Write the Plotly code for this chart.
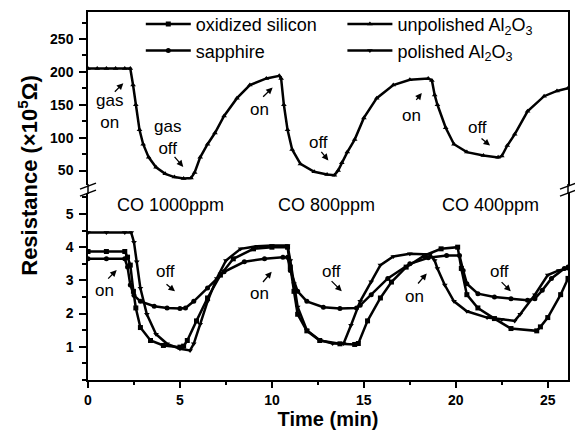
import plotly.graph_objects as go

# ---- data ----
t_unpol = [0, 0.5, 1.0, 1.5, 2.0, 2.3, 2.45, 2.6, 2.8, 3.0, 3.3, 3.7, 4.2, 4.7, 5.2, 5.6, 5.8, 6.1, 6.5, 6.9,
           7.4, 8.1, 8.8, 9.7, 10.4, 10.5, 10.65, 10.85, 11.1, 11.55, 12.3, 13.0, 13.4, 13.6, 13.8, 14.1, 14.5,
           15.0, 15.7, 16.6, 17.5, 18.5, 18.7, 18.85, 19.0, 19.45, 19.9, 20.6, 21.5, 22.3, 22.5, 22.8, 23.2,
           23.9, 24.8, 25.5, 26.1]
r_unpol = [205, 205, 205, 205, 205, 205, 180, 150, 112, 90, 70, 55, 45, 40, 38, 38.5, 47, 70, 90, 107,
           133, 160, 180, 190, 194, 190, 150, 112, 82, 60, 48, 44, 43, 50, 62, 78, 97,
           130, 160, 180, 188, 190, 187, 165, 150, 115, 90, 78, 73, 70, 72, 88, 105,
           140, 163, 171, 175]

t_pol = [0, 1.0, 2.0, 2.35, 2.5, 2.65, 2.85, 3.2, 3.7, 4.3, 5.0, 5.55, 5.75, 6.1, 6.5, 7.0, 7.5, 8.3, 9.2, 10.0,
         10.85, 11.0, 11.2, 11.4, 11.9, 12.6, 13.3, 13.9, 14.3, 14.8, 15.4, 15.9, 16.6, 17.5, 18.6, 18.85,
         19.0, 19.4, 19.9, 20.6, 21.7, 22.5, 23.2, 23.5, 24.3, 25.0, 25.6, 26.1]
r_pol = [4.44, 4.44, 4.44, 4.44, 4.15, 3.56, 2.76, 1.98, 1.38, 1.09, 0.94, 0.89, 1.09, 1.68, 2.37, 3.06, 3.6,
         3.95, 4.03, 4.05, 4.05, 3.6, 2.9, 2.2, 1.5, 1.2, 1.1, 1.1, 1.65, 2.37, 2.96, 3.46, 3.72, 3.8, 3.78,
         3.6, 3.36, 2.86, 2.37, 2.07, 1.88, 1.82, 1.78, 1.98, 2.57, 3.16, 3.3, 3.36]

t_ox = [0, 1.0, 2.0, 2.15, 2.3, 2.47, 2.6, 2.85, 3.4, 4.1, 5.0, 5.2, 5.4, 5.9, 6.5, 7.2, 7.9, 9.0, 10.0, 10.85,
        11.0, 11.2, 11.4, 11.9, 12.6, 13.7, 14.5, 14.7, 15.2, 15.9, 16.5, 17.3, 18.3, 19.2, 20.1, 20.3, 20.6,
        21.2, 22.1, 23.0, 24.4, 24.6, 25.0, 25.7, 26.1]
r_ox = [3.87, 3.87, 3.87, 3.7, 3.46, 2.67, 2.17, 1.58, 1.19, 1.04, 0.99, 1.02, 1.19, 1.78, 2.47, 3.16, 3.65,
        3.95, 4.0, 4.0, 3.4, 2.67, 1.98, 1.48, 1.19, 1.09, 1.07, 1.1, 1.78, 2.47, 2.95, 3.4, 3.75, 3.95, 4.0,
        3.36, 2.57, 2.17, 1.85, 1.55, 1.48, 1.6, 1.88, 2.57, 3.06]

t_sap = [0, 1.0, 2.0, 2.15, 2.3, 2.5, 2.85, 3.6, 4.3, 5.0, 5.3, 5.75, 6.5, 7.4, 8.5, 9.6, 10.6, 10.85, 11.0,
         11.4, 11.9, 12.8, 13.7, 14.6, 14.8, 15.4, 16.3, 17.5, 18.5, 19.5, 20.2, 20.4, 20.6, 21.2, 22.1, 23.0,
         23.9, 24.3, 24.7, 25.2, 25.9, 26.1]
r_sap = [3.65, 3.65, 3.65, 3.4, 2.86, 2.55, 2.37, 2.22, 2.17, 2.15, 2.17, 2.37, 2.77, 3.26, 3.56, 3.65, 3.7,
         3.7, 3.3, 2.67, 2.37, 2.19, 2.15, 2.17, 2.25, 2.57, 3.06, 3.5, 3.68, 3.75, 3.75, 3.3, 2.9, 2.6, 2.5,
         2.45, 2.4, 2.45, 2.7, 3.06, 3.36, 3.4]

x_ticks = [0, 5, 10, 15, 20, 25]
y_top_ticks = [50, 100, 150, 200, 250]
y_bot_ticks = [1, 2, 3, 4, 5]

FONT = "Liberation Sans, Arial, sans-serif"

fig = go.Figure()


def add(t, r, name, symbol, xa, ya, legend):
    fig.add_trace(go.Scatter(
        x=t, y=r, name=name, mode="lines+markers", xaxis=xa, yaxis=ya, legend=legend,
        showlegend=True,
        line=dict(color="black", width=2.5),
        marker=dict(symbol=symbol, size=5, color="black"),
    ))


add(t_ox, r_ox, "oxidized silicon", "square", "x", "y", "legend")
add(t_sap, r_sap, "sapphire", "circle", "x", "y", "legend")
add(t_unpol, r_unpol, "unpolished Al<sub>2</sub>O<sub>3</sub>", "triangle-up", "x2", "y2", "legend2")
add(t_pol, r_pol, "polished Al<sub>2</sub>O<sub>3</sub>", "triangle-down", "x", "y", "legend2")

axis_common = dict(showline=True, linecolor="black", linewidth=1.5, ticks="outside", tickwidth=1.5,
                   tickcolor="black", showgrid=False, zeroline=False, automargin=False,
                   tickfont=dict(family=FONT, size=14, color="black", weight="bold"))

fig.update_layout(
    width=575, height=437,
    margin=dict(l=88, r=7, t=6, b=57),
    paper_bgcolor="white", plot_bgcolor="white",
    showlegend=True,
    font=dict(family=FONT, color="black"),
    xaxis=dict(**axis_common, range=[0, 26.1], anchor="y", tickvals=x_ticks, ticklen=6,
               minor=dict(ticks="outside", dtick=2.5, tick0=0, ticklen=3, tickwidth=1.5, tickcolor="black"),
               title=dict(text="<b>Time (min)</b>", font=dict(family=FONT, size=20), standoff=4)),
    xaxis2=dict(range=[0, 26.1], anchor="y2", matches="x", side="top", showline=True, linecolor="black",
                linewidth=1.5, ticks="", showticklabels=False, showgrid=False, zeroline=False),
    yaxis=dict(**axis_common, domain=[0, 0.508], range=[0, 5.63], tickvals=y_bot_ticks, ticklen=7,
               mirror=True, ticklabelstandoff=3,
               minor=dict(ticks="outside", dtick=0.5, tick0=0, ticklen=4, tickwidth=1.5, tickcolor="black")),
    yaxis2=dict(**axis_common, domain=[0.529, 1], range=[27.5, 291], tickvals=y_top_ticks, ticklen=7,
                mirror=True, ticklabelstandoff=3,
                minor=dict(ticks="outside", dtick=25, tick0=0, ticklen=4, tickwidth=1.5, tickcolor="black")),
)

leg_common = dict(bgcolor="rgba(0,0,0,0)", borderwidth=0, xanchor="left", yanchor="middle",
                  itemwidth=45, visible=True, tracegroupgap=0, traceorder="normal",
                  font=dict(family=FONT, size=18, color="black"))
fig.update_layout(
    legend=dict(**leg_common, x=0.11, y=0.931),
    legend2=dict(**leg_common, x=0.53, y=0.931),
)

# text labels
ann_font = dict(family=FONT, size=17, color="black")
texts = [
    ("gas<br>on", 1.16, 139.5, "x2", "y2"),
    ("gas<br>off", 4.3, 99.6, "x2", "y2"),
    ("on", 9.35, 142.8, "x2", "y2"), ("off", 12.52, 93.0, "x2", "y2"),
    ("on", 17.6, 134.3, "x2", "y2"), ("off", 21.17, 115.4, "x2", "y2"),
    ("on", 0.92, 2.69, "x", "y"), ("off", 4.19, 3.26, "x", "y"),
    ("on", 9.35, 2.62, "x", "y"), ("off", 13.25, 3.26, "x", "y"),
    ("on", 17.78, 2.52, "x", "y"), ("off", 22.4, 3.28, "x", "y"),
]
for txt, xx, yy, xr, yr in texts:
    fig.add_annotation(text=txt, x=xx, y=yy, xref=xr, yref=yr, showarrow=False, font=ann_font)

for txt, xx in [("CO 1000ppm", 4.46), ("CO 800ppm", 12.98), ("CO 400ppm", 21.86)]:
    fig.add_annotation(text=txt, x=xx, y=5.28, xref="x", yref="y", showarrow=False,
                       font=dict(family=FONT, size=18, color="black"))

arrows = [
    (1.92, 182.8, -10, 10, "x2", "y2"), (5.18, 55.5, -10, -11.6, "x2", "y2"),
    (10.04, 176.2, -11, 10.6, "x2", "y2"), (13.07, 65.4, -8.3, -10, "x2", "y2"),
    (18.15, 167.8, -6.7, 8.4, "x2", "y2"), (21.86, 87.9, -10, -8.4, "x2", "y2"),
    (1.56, 3.31, -10, 10, "x", "y"), (4.73, 2.67, -10, -8.3, "x", "y"),
    (9.99, 3.26, -10, 11.7, "x", "y"), (13.8, 2.67, -11.7, -11.7, "x", "y"),
    (18.42, 3.21, -10, 11.6, "x", "y"), (22.99, 2.67, -10.7, -10.7, "x", "y"),
]
for xx, yy, ax, ay, xr, yr in arrows:
    fig.add_annotation(text="", x=xx, y=yy, xref=xr, yref=yr, showarrow=True, ax=ax, ay=ay,
                       arrowhead=2, arrowsize=1, arrowwidth=1.3, arrowcolor="black")

# y-axis title
fig.add_annotation(text="<b>Resistance (×10<sup>5</sup>Ω)</b>", xref="paper", yref="paper",
                   x=-0.125, y=0.555, xanchor="center", yanchor="middle", textangle=-90, showarrow=False,
                   font=dict(family=FONT, size=22, color="black"))

# axis break marks
for xa in (0, 1):
    ya = 0.5187
    fig.add_shape(type="line", xref="paper", yref="paper", xsizemode="pixel", ysizemode="pixel",
                  xanchor=xa, yanchor=ya, x0=0, x1=0, y0=-5, y1=5, line=dict(color="black", width=1.5))
    for off in (-4, 3):
        fig.add_shape(type="line", xref="paper", yref="paper", xsizemode="pixel", ysizemode="pixel",
                      xanchor=xa, yanchor=ya, x0=-8, x1=8, y0=off - 3, y1=off + 3,
                      line=dict(color="black", width=1.5))

fig.write_html("out.html", config={"displayModeBar": False},
               post_script="document.body.style.margin='0';")
